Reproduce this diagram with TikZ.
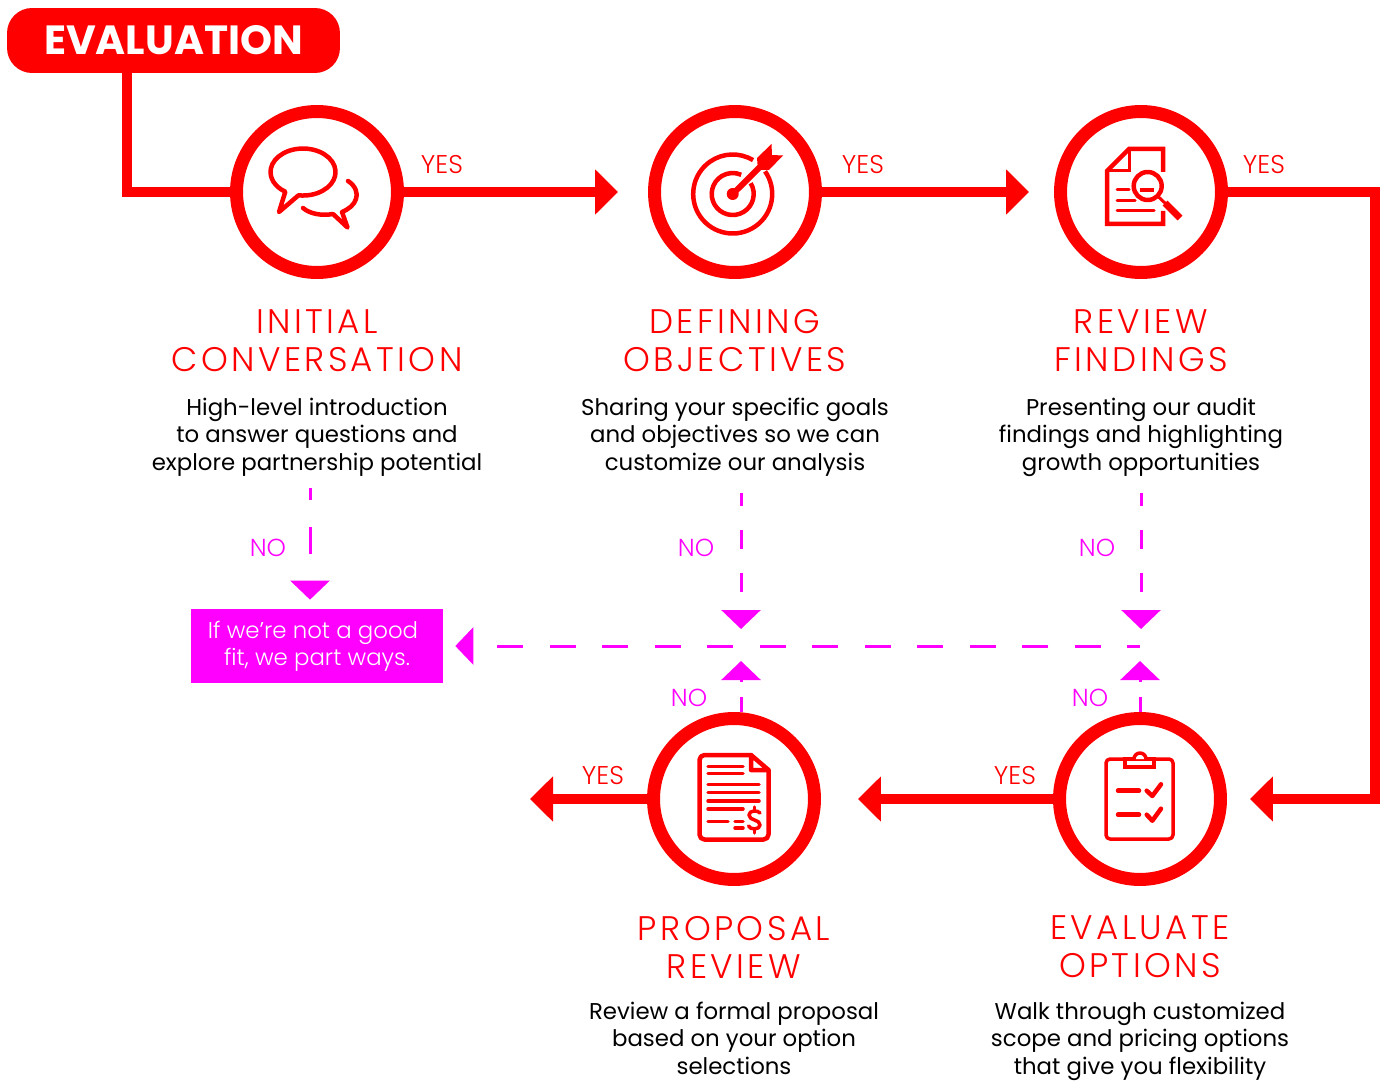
\documentclass[tikz,border=0pt]{standalone}
\usepackage{fontspec}
\setmainfont{Poppins}
\newfontfamily\lightfont{Poppins Light}
\newfontfamily\titlefont[LetterSpace=10]{Poppins Light}
\usetikzlibrary{arrows.meta}
\definecolor{brightmagenta}{RGB}{255,0,255}
\definecolor{purered}{RGB}{255,0,0}
\tikzstyle{banner} = [rectangle, rounded corners=.5cm, minimum width=6.66cm, minimum height=1.3cm, fill=purered, text=white, font=\bfseries\fontsize{23.2}{27}\selectfont]
\tikzstyle{ring} = [circle, draw=purered, line width=.26cm, minimum size=3.22cm, fill=white]
\tikzstyle{title} = [text=purered, align=center, font=\titlefont\fontsize{19.4}{21.6}\selectfont]
\tikzstyle{body} = [text=black, align=center, font=\fontsize{13}{15.6}\selectfont]
\tikzstyle{partbox} = [rectangle, minimum width=5.04cm, minimum height=1.48cm, inner sep=0pt, fill=brightmagenta, text=white, align=center, font=\lightfont\fontsize{13}{15.4}\selectfont]
\tikzstyle{yes} = [text=purered, font=\lightfont\fontsize{14.6}{16}\selectfont]
\tikzstyle{no} = [text=brightmagenta, font=\lightfont\fontsize{14}{16}\selectfont]
\tikzstyle{arrow} = [purered, line width=.2cm, ->, >={Triangle[length=.46cm,width=.88cm]}]
\tikzstyle{noline} = [brightmagenta, line width=.06cm, ->, >={Triangle[length=.38cm,width=.78cm]}]
\tikzstyle{icon} = [purered, line width=.09cm, line join=round, line cap=round]
\begin{document}
\begin{tikzpicture}[x=.02cm,y=-.02cm]
    \useasboundingbox (0,0) rectangle (1383,1081);

    \node [ring] at (317,192) (initial) {};
    \node [ring] at (735,192) (defining) {};
    \node [ring] at (1141,192) (review) {};
    \node [ring] at (1140,799) (evaluate) {};
    \node [ring] at (734,799) (proposal) {};
    \node [partbox] at (317,646) (partways) {If we’re not a good\hspace*{.16cm}\\fit, we part ways.};

    \coordinate (start) at (127,60);
    \coordinate (corner) at (1375,192);
    \coordinate (out) at (530,799);
    \coordinate (cross) at (1140,646);
    \coordinate (noa) at (310,488);
    \coordinate (nob) at (741,493);
    \coordinate (noc) at (1141,493);
    \coordinate (nobtip) at (741,629);
    \coordinate (noctip) at (1141,629);
    \coordinate (nod) at (741,712);
    \coordinate (noe) at (1140,712);
    \coordinate (nodtip) at (741,661);
    \coordinate (noetip) at (1140,661);

    \draw [purered, line width=.2cm] (initial) -| (start);
    \node [banner] at (173.5,40.5) (evaluation) {EVALUATION};

    \draw [arrow, shorten >=.6cm] (initial) -- (defining);
    \draw [arrow, shorten >=.5cm] (defining) -- (review);
    \draw [arrow, shorten >=.46cm] (review) -- (corner) |- (evaluate);
    \draw [arrow, shorten >=.74cm] (evaluate) -- (proposal);
    \draw [arrow] (proposal) -- (out);

    \draw [noline, dash pattern=on .54cm off .54cm, dash phase=.3cm, shorten >=.18cm] (noa) -- (noa |- partways.north);
    \draw [noline, dash pattern=on .38cm off .48cm, dash phase=.12cm] (nob) -- (nobtip);
    \draw [noline, dash pattern=on .38cm off .48cm, dash phase=.12cm] (noc) -- (noctip);
    \draw [noline, dash pattern=on .3cm off .3cm] (nod) -- (nodtip);
    \draw [noline, dash pattern=on .3cm off .3cm] (noe) -- (noetip);
    \draw [noline, >={Triangle[length=.36cm,width=.74cm]}, dash pattern=on .525cm off .525cm, dash phase=.265cm, shorten >=.24cm] (cross) -- (partways.east);

    \node [yes] at (442,165) (yesa) {YES};
    \node [yes] at (863,165) (yesb) {YES};
    \node [yes] at (1264,165) (yesc) {YES};
    \node [yes] at (1015,776) (yesd) {YES};
    \node [yes] at (603,776) (yese) {YES};
    \node [no] at (268,548) (noalabel) {NO};
    \node [no] at (696,548) (noblabel) {NO};
    \node [no] at (1097,548) (noclabel) {NO};
    \node [no] at (689,698) (nodlabel) {NO};
    \node [no] at (1090,698) (noelabel) {NO};

    \node [title] at (317,341) (titlea) {INITIAL\\CONVERSATION};
    \node [title] at (735,341) (titleb) {DEFINING\\OBJECTIVES};
    \node [title] at (1141,341) (titlec) {REVIEW\\FINDINGS};
    \node [title] at (1140,947) (titled) {EVALUATE\\OPTIONS};
    \node [title] at (734,947) (titlee) {PROPOSAL\\REVIEW};

    \node [body] at (317,437) (bodya) {High-level introduction\\to answer questions and\\explore partnership potential};
    \node [body] at (735,437) (bodyb) {Sharing your specific goals\\and objectives so we can\\customize our analysis};
    \node [body] at (1141,437) (bodyc) {Presenting our audit\\findings and highlighting\\growth opportunities};
    \node [body] at (1140,1041) (bodyd) {Walk through customized\\scope and pricing options\\that give you flexibility};
    \node [body] at (734,1038) (bodye) {Review a formal proposal\\based on your option\\selections};

    % speech bubbles
    \draw [icon] (298.5,195.3) arc [start angle=98, end angle=-237, x radius=32.5, y radius=23.5] -- (279,212) -- cycle;
    \draw [icon] (348,181) .. controls (356,186) and (358,194) .. (356,199) .. controls (354,205) and (349,209) .. (342,212) -- (347.5,227.5) -- (333,214) .. controls (322,216) and (310,214) .. (303,208);

    % target
    \draw [icon, line cap=butt] (732.7,194) ++(-35:39.5) arc [start angle=-35, end angle=301, radius=39.5];
    \draw [icon, line cap=butt] (732.7,194) ++(-31:21) arc [start angle=-31, end angle=294, radius=21];
    \fill [purered] (732.7,194) circle [radius=6];
    \draw [icon, line width=.12cm] (732.7,194) -- (765,162);
    \fill [purered] (757,158) -- (771.5,144) -- (772,155) -- (783,155.5) -- (769,170) -- (758,170) -- cycle;

    % document and magnifier
    \draw [icon, line cap=butt, line join=miter] (1163,172) -- (1163,149) -- (1129,149) -- (1107,171) -- (1107,224) -- (1163,224) -- (1163,211);
    \draw [icon, line width=.06cm, line join=miter] (1129,149) -- (1129,171) -- (1107,171);
    \draw [icon] (1147.7,186) circle [radius=14];
    \draw [icon, line width=.06cm] (1157.5,196) -- (1166,204);
    \draw [icon, line width=.14cm, line cap=butt] (1165,203) -- (1180,218);
    \draw [icon, line width=.06cm] (1117,190) -- (1129,190);
    \draw [icon, line width=.06cm] (1117,200.3) -- (1135,200.3);
    \draw [icon, line width=.06cm] (1117,211) -- (1154,211);
    \draw [icon, line cap=butt] (1140,190) -- (1154,190);

    % proposal sheet
    \draw [icon, rounded corners=.1cm] (751,755) -- (699.5,755) -- (699.5,839.5) -- (768.5,839.5) -- (768.5,770);
    \draw [icon] (751,755) -- (768.5,770) -- (751,770) -- cycle;
    \foreach \y in {766.3,773.7,809}
        \draw [icon, line width=.07cm] (708,\y) -- (743,\y);
    \foreach \y in {784.3,792.7,801}
        \draw [icon, line width=.07cm] (708,\y) -- (759,\y);
    \draw [icon, line width=.07cm] (708,821.7) -- (728,821.7);
    \draw [icon, line width=.07cm] (735,821.7) -- (743,821.7);
    \draw [icon, line width=.07cm] (735,828) -- (743,828);
    \draw [icon, line width=.07cm] (760,813) .. controls (758,810) and (749,810) .. (749,815) .. controls (749,821) and (760,819) .. (760,825) .. controls (760,830) and (750,830) .. (748.5,826);
    \draw [icon, line width=.07cm] (754.5,807) -- (754.5,810);
    \draw [icon, line width=.07cm] (754.5,830) -- (754.5,833);

    % clipboard
    \draw [icon, line width=.07cm, rounded corners=.08cm] (1106,759) rectangle (1173,839);
    \draw [icon, line width=.07cm, line join=miter, fill=white] (1125,759) rectangle (1154,767);
    \draw [icon, line width=.07cm, fill=white] (1134,759) arc [start angle=180, end angle=360, radius=6];
    \draw [icon] (1118,790.7) -- (1139,790.7);
    \draw [icon] (1118,814.7) -- (1139,814.7);
    \draw [icon] (1146.7,790.7) -- (1152.3,796) -- (1161,784.3);
    \draw [icon] (1146.7,814.7) -- (1152.3,820.7) -- (1161,808.7);
\end{tikzpicture}
\end{document}
